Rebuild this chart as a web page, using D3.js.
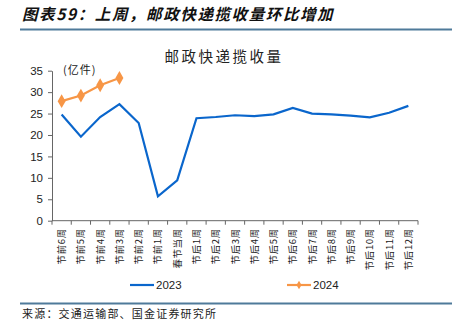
<!DOCTYPE html>
<html><head><meta charset="utf-8">
<script src="https://cdn.jsdelivr.net/npm/d3@7/dist/d3.min.js"></script>
<style>body{margin:0;background:#fff}svg{display:block}</style>
</head><body>
<script>
const categories = ["节前6周","节前5周","节前4周","节前3周","节前2周","节前1周","春节当周","节后1周","节后2周","节后3周","节后4周","节后5周","节后6周","节后7周","节后8周","节后9周","节后10周","节后11周","节后12周"];
const values2023 = [24.8,19.6,24.2,27.2,22.8,5.7,9.4,23.9,24.2,24.6,24.4,24.8,26.3,25.0,24.8,24.5,24.1,25.2,26.8];
const values2024 = [27.9,29.2,31.6,33.3];
const yTicks = [0,5,10,15,20,25,30,35];
const seriesNames = ["2023","2024"];

const W=452,H=327;
const svg=d3.select("body").append("svg").attr("width",W).attr("height",H);
const cjk="'Noto Sans CJK SC',sans-serif";
const lat="'Liberation Sans',Arial,sans-serif";

svg.append("text").attr("x",22).attr("y",20).attr("font-family",cjk).attr("font-size",15.5)
  .attr("font-weight","bold").attr("font-style","italic").attr("fill","#111").attr("letter-spacing",1.6)
  .text("图表59：上周，邮政快递揽收量环比增加");
svg.append("line").attr("x1",20).attr("x2",452).attr("y1",29.5).attr("y2",29.5).attr("stroke","#4f7a9a").attr("stroke-width",2);
svg.append("line").attr("x1",20).attr("x2",452).attr("y1",303.5).attr("y2",303.5).attr("stroke","#4f7a9a").attr("stroke-width",2);
svg.append("text").attr("x",22).attr("y",318).attr("font-family",cjk).attr("font-size",11).attr("fill","#222").attr("letter-spacing",1.2)
  .text("来源：交通运输部、国金证券研究所");

svg.append("text").attr("x",224).attr("y",62).attr("text-anchor","middle").attr("font-family",cjk)
  .attr("font-size",14.5).attr("fill","#222").attr("letter-spacing",2.5).text("邮政快递揽收量");

const x=d3.scaleBand().domain(categories).range([52,418]);
const y=d3.scaleLinear().domain([0,35]).range([220.7,70.7]);

const ya=svg.append("g").attr("transform","translate(52,0)")
  .call(d3.axisLeft(y).tickValues(yTicks).tickSize(4).tickSizeOuter(0));
ya.select(".domain").attr("stroke","#666");
ya.selectAll(".tick line").attr("stroke","#666");
ya.selectAll(".tick text").attr("font-family",lat).attr("font-size",11.5).attr("fill","#222").attr("x",-9);

const xa=svg.append("g").attr("transform","translate(0,220.7)");
xa.append("line").attr("x1",52).attr("x2",418).attr("stroke","#666");
const bounds=categories.map(c=>x(c)).concat([x.range()[1]]);
xa.selectAll("line.tk").data(bounds).join("line").attr("class","tk")
  .attr("x1",d=>d).attr("x2",d=>d).attr("y1",0).attr("y2",4).attr("stroke","#666");
xa.selectAll("text").data(categories).join("text")
  .attr("transform",d=>`translate(${x(d)+x.bandwidth()/2+3.5},7.5) rotate(-90)`)
  .attr("text-anchor","end").attr("font-family",cjk).attr("font-size",9.5).attr("letter-spacing",0.6).attr("fill","#222").text(d=>d);

svg.append("text").attr("x",63).attr("y",74).attr("font-family",cjk).attr("font-size",11).attr("letter-spacing",1).attr("fill","#222").text("(亿件)");

const cx=d=>x(d)+x.bandwidth()/2;
const line=d3.line().x((d,i)=>cx(categories[i])).y(d=>y(d));
svg.append("path").datum(values2023).attr("d",line).attr("fill","none").attr("stroke","#0a66cc").attr("stroke-width",2.2);
svg.append("path").datum(values2024).attr("d",line).attr("fill","none").attr("stroke","#f79646").attr("stroke-width",2.2);
svg.selectAll("path.dm").data(values2024).join("path").attr("class","dm")
  .attr("transform",(d,i)=>`translate(${cx(categories[i])},${y(d)})`)
  .attr("d",d3.symbol(d3.symbolDiamond,55)).attr("fill","#f79646");

const lg=svg.append("g");
lg.append("line").attr("x1",130).attr("x2",154).attr("y1",285).attr("y2",285).attr("stroke","#0a66cc").attr("stroke-width",2.2);
lg.append("text").attr("x",156).attr("y",289).attr("font-family",lat).attr("font-size",11.5).attr("fill","#222").text(seriesNames[0]);
lg.append("line").attr("x1",287).attr("x2",311).attr("y1",285).attr("y2",285).attr("stroke","#f79646").attr("stroke-width",2.2);
lg.append("path").attr("transform","translate(299,285)").attr("d",d3.symbol(d3.symbolDiamond,22)).attr("fill","#f79646");
lg.append("text").attr("x",313).attr("y",289).attr("font-family",lat).attr("font-size",11.5).attr("fill","#222").text(seriesNames[1]);
</script>
</body></html>
